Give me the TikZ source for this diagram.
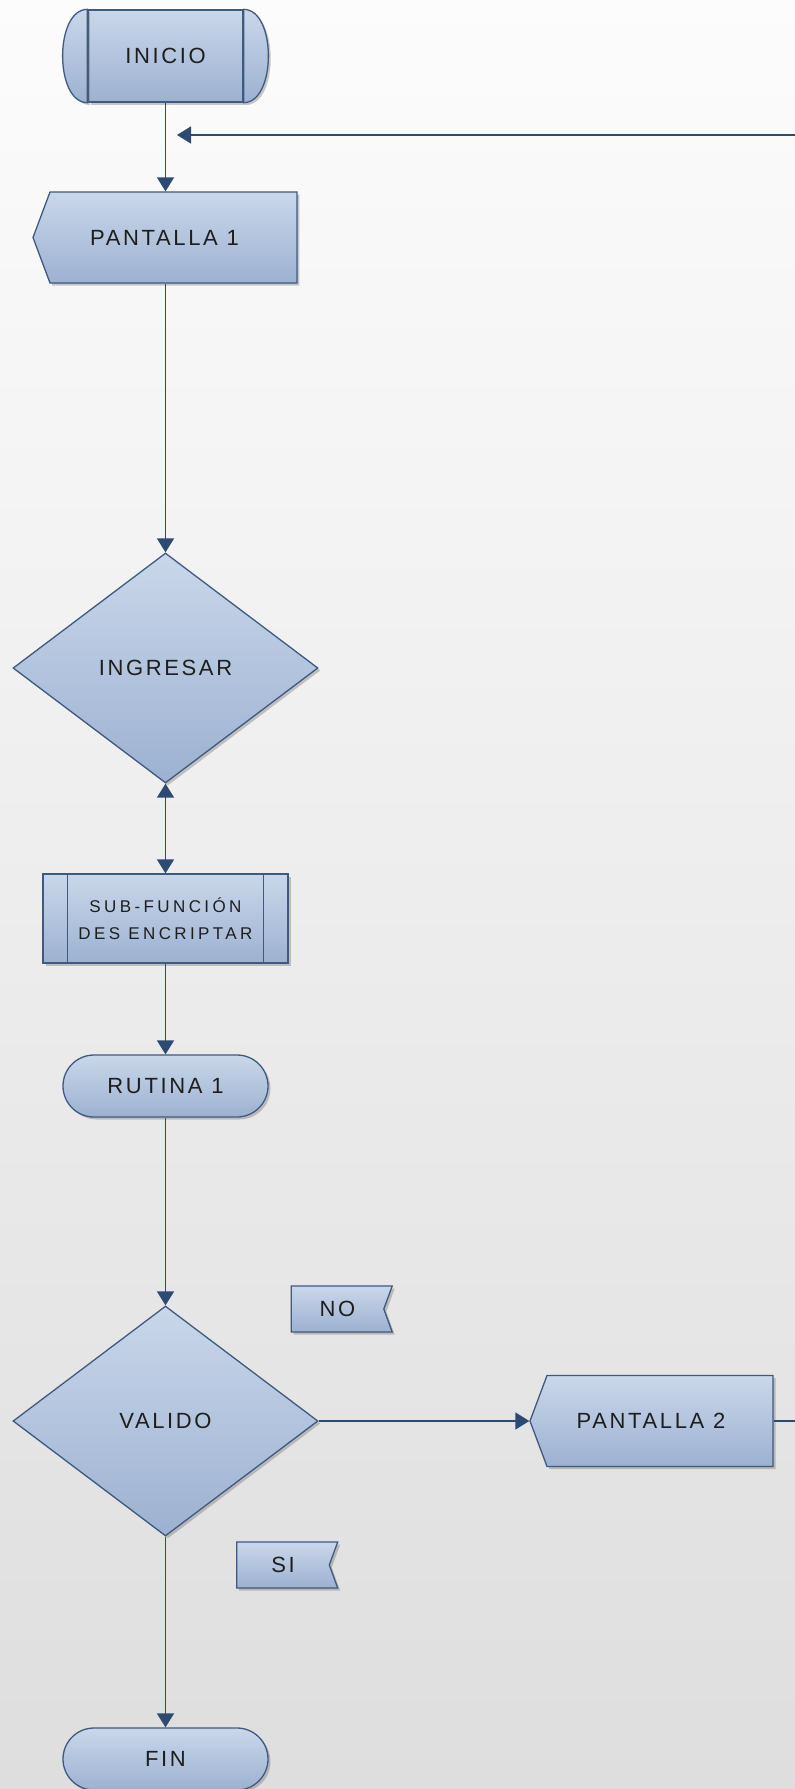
\documentclass[tikz,border=0pt]{standalone}
\usepackage{fontspec}
\newfontfamily\diafont{Liberation Sans}[LetterSpace=12]
\newfontfamily\subfont{Liberation Sans}[LetterSpace=20]
\usetikzlibrary{shapes.geometric,shapes.misc,shapes.symbols,arrows.meta,shadows,positioning}

\definecolor{filltop}{HTML}{CAD7EA}
\definecolor{fillbot}{HTML}{9CB1D1}
\definecolor{borde}{HTML}{3E5A80}
\definecolor{linea}{HTML}{2C4A72}
\definecolor{bgtop}{HTML}{FCFCFC}
\definecolor{bgbot}{HTML}{DEDEDE}
\definecolor{texto}{HTML}{1E1E1E}

\tikzset{
  base/.style={draw=borde, line width=1.3pt, top color=filltop, bottom color=fillbot,
    text=texto, inner sep=0pt, font=\diafont\fontsize{22}{26}\selectfont,
    drop shadow={shadow xshift=2.5pt, shadow yshift=-2.5pt, opacity=.35, fill=black!60}},
  inicial/.style={base, rectangle, minimum width=155pt, minimum height=92pt},
  pantalla/.style={base, signal, signal to=west, signal from=nowhere,
    signal pointer angle=139, minimum width=#1, minimum height=91pt},
  proceso/.style={base, rectangle, minimum width=245pt, minimum height=89pt,
    align=center, font=\subfont\fontsize{17}{27}\selectfont},
  terminal/.style={base, rounded rectangle, minimum width=205pt, minimum height=62pt},
  decision/.style={base, diamond, minimum width=305pt, minimum height=230pt},
  bandera/.style={base, signal, signal from=east, signal to=nowhere,
    signal pointer angle=140, minimum width=101pt, minimum height=46pt},
  punta/.tip={Triangle[length=14pt,width=17pt]},
  flecha/.style={draw=linea, line width=1.6pt, -punta},
  doble/.style={flecha, punta-punta},
  raya/.style={draw=borde, line width=1.3pt}
}

\begin{document}
\begin{tikzpicture}[x=1pt,y=-1pt]
\useasboundingbox (0,0) rectangle (795,1789);
\clip (0,0) rectangle (795,1789);
\shade[top color=bgtop,bottom color=bgbot] (0,0) rectangle (795,1789);

\node[inicial] (inicio) at (165.5,56) {INICIO};
\path[base] (inicio.north west) .. controls +(-33,0) and +(-33,0) .. (inicio.south west) -- cycle;
\path[base] (inicio.north east) .. controls +(33,0) and +(33,0) .. (inicio.south east) -- cycle;
\draw[raya] (inicio.north west) -- (inicio.south west);
\draw[raya] (inicio.north east) -- (inicio.south east);

\node[pantalla=264pt] (pant1) at (173.5,237.5) {\hspace*{-18pt}PANTALLA 1};
\node[decision] (ingresar) at (165.5,668) {INGRESAR};
\node[proceso] (sub) at (165.5,918.5) {SUB-FUNCIÓN\\DES ENCRIPTAR};
\draw[raya] ([xshift=25pt]sub.north west) -- ([xshift=25pt]sub.south west);
\draw[raya] ([xshift=-25pt]sub.north east) -- ([xshift=-25pt]sub.south east);
\node[terminal] (rutina) at (165.5,1086) {RUTINA 1};
\node[decision] (valido) at (165.5,1421) {VALIDO};
\node[pantalla=243pt] (pant2) at (660,1421) {\hspace*{-18pt}PANTALLA 2};
\node[terminal] (fin) at (165.5,1759) {FIN};

\node[bandera] (no) at (337.5,1309) {NO};
\node[bandera] (si) at (283,1565) {SI};

\coordinate (retorno) at (177,135);

\draw[flecha] (inicio.south) -- (inicio.south |- pant1.north);
\draw[flecha] (ingresar.north |- pant1.south) -- (ingresar.north);
\draw[doble] (ingresar.south) -- (sub.north);
\draw[flecha] (sub.south) -- (rutina.north);
\draw[flecha] (rutina.south) -- (valido.north);
\draw[flecha] (valido.east) -- (pant2.west);
\draw[flecha] (valido.south) -- (fin.north);
\draw[flecha] (pant2.east) -- ++(60,0) |- (retorno);
\end{tikzpicture}
\end{document}
